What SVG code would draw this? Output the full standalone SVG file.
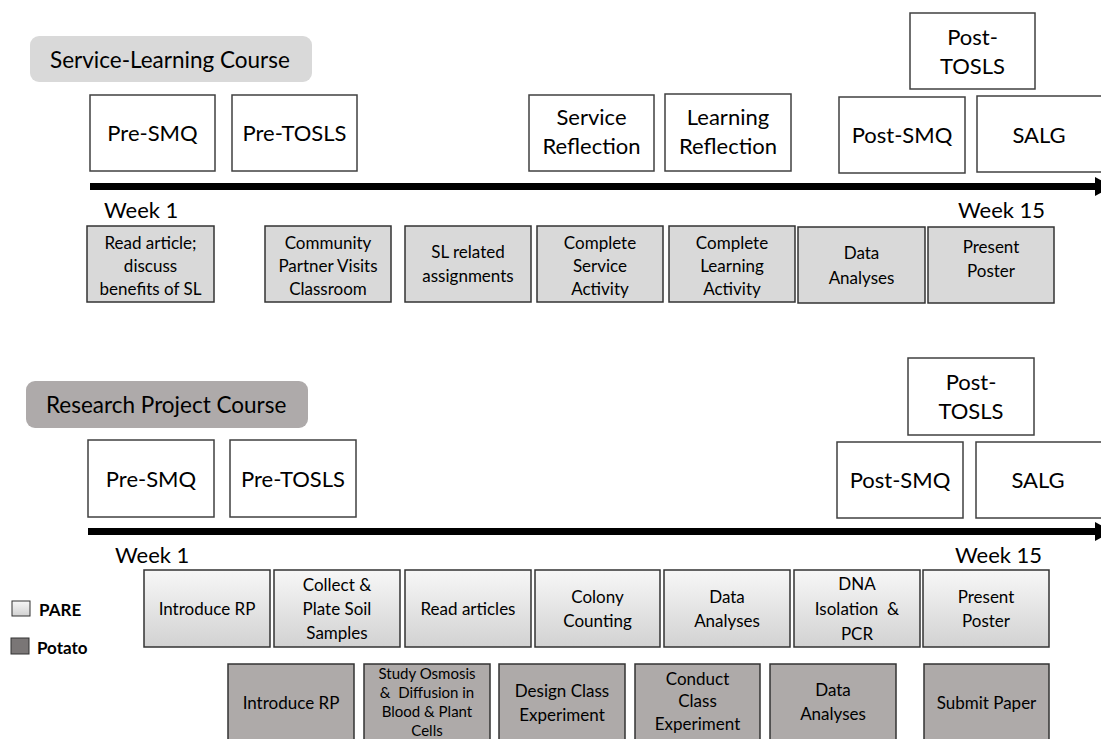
<svg xmlns="http://www.w3.org/2000/svg" width="1101" height="739" viewBox="0 0 1101 739">
<defs>
<linearGradient id="pare" x1="0" y1="0" x2="0" y2="1">
<stop offset="0" stop-color="#f7f7f7"/>
<stop offset="1" stop-color="#d2d2d2"/>
</linearGradient>
<style>
text{font-family:Lato,"Liberation Sans",sans-serif;fill:#000;text-anchor:middle}
.w rect{fill:#fff;stroke:#404040;stroke-width:1.5}
.w text{font-size:22px}
.g rect{fill:#d9d9d9;stroke:#333;stroke-width:1.5}
.p rect{fill:url(#pare);stroke:#333;stroke-width:1.5}
.t rect{fill:#aeaaa9;stroke:#333;stroke-width:1.5}
.g text,.p text,.t text{font-size:17px}
.s{font-size:15px!important}
.wk{font-size:22px;text-anchor:start}
.lbl{font-size:22.5px;text-anchor:start}
.leg{font-size:17px;font-weight:bold;text-anchor:start}
</style>
</defs>
<rect x="0" y="0" width="1101" height="739" fill="#fff"/>

<!-- Service-Learning section -->
<g id="sl-label"><rect x="30" y="36" width="282" height="46" rx="9" fill="#d9d9d9"/><text class="lbl" x="50" y="68">Service-Learning Course</text></g>
<g id="sl-pre-smq" class="w"><rect x="90" y="95" width="125" height="76"/><text x="152.5" y="141">Pre-SMQ</text></g>
<g id="sl-pre-tosls" class="w"><rect x="232" y="95" width="125" height="76"/><text x="294.5" y="141">Pre-TOSLS</text></g>
<g id="sl-service-reflection" class="w"><rect x="529" y="95" width="125" height="76"/><text x="591.5" y="125">Service</text><text x="591.5" y="154">Reflection</text></g>
<g id="sl-learning-reflection" class="w"><rect x="665" y="94" width="126" height="77"/><text x="728" y="125">Learning</text><text x="728" y="154">Reflection</text></g>
<g id="sl-post-tosls" class="w"><rect x="910" y="13" width="125" height="76"/><text x="972.5" y="45">Post-</text><text x="972.5" y="74">TOSLS</text></g>
<g id="sl-post-smq" class="w"><rect x="839" y="97" width="126" height="76"/><text x="902" y="143">Post-SMQ</text></g>
<g id="sl-salg" class="w"><rect x="977" y="96" width="130" height="76"/><text x="1039" y="143">SALG</text></g>
<text class="wk" x="104" y="218">Week 1</text>
<text class="wk" x="958" y="218">Week 15</text>

<g id="sl-read-article" class="g"><rect x="87" y="226" width="127" height="76"/><text x="150.5" y="249">Read article;</text><text x="150.5" y="272">discuss</text><text x="150.5" y="295">benefits of SL</text></g>
<g id="sl-community" class="g"><rect x="265" y="226" width="126" height="76"/><text x="328" y="249">Community</text><text x="328" y="272">Partner Visits</text><text x="328" y="295">Classroom</text></g>
<g id="sl-related" class="g"><rect x="405" y="226" width="126" height="76"/><text x="468" y="258">SL related</text><text x="468" y="282">assignments</text></g>
<g id="sl-complete-service" class="g"><rect x="537" y="226" width="126" height="76"/><text x="600" y="249">Complete</text><text x="600" y="272">Service</text><text x="600" y="295">Activity</text></g>
<g id="sl-complete-learning" class="g"><rect x="669" y="226" width="126" height="76"/><text x="732" y="249">Complete</text><text x="732" y="272">Learning</text><text x="732" y="295">Activity</text></g>
<g id="sl-data" class="g"><rect x="798" y="227" width="127" height="76"/><text x="861.5" y="259">Data</text><text x="861.5" y="284">Analyses</text></g>
<g id="sl-poster" class="g"><rect x="928" y="227" width="126" height="76"/><text x="991" y="253">Present</text><text x="991" y="277">Poster</text></g>

<!-- Research Project section -->
<g id="rp-label"><rect x="26" y="381" width="282" height="47" rx="9" fill="#aeaaaa"/><text class="lbl" x="46" y="413">Research Project Course</text></g>
<g id="rp-pre-smq" class="w"><rect x="88" y="440" width="126" height="77"/><text x="151" y="487">Pre-SMQ</text></g>
<g id="rp-pre-tosls" class="w"><rect x="230" y="440" width="126" height="77"/><text x="293" y="487">Pre-TOSLS</text></g>
<g id="rp-post-tosls" class="w"><rect x="908" y="358" width="126" height="77"/><text x="971" y="390">Post-</text><text x="971" y="419">TOSLS</text></g>
<g id="rp-post-smq" class="w"><rect x="837" y="442" width="126" height="76"/><text x="900" y="488">Post-SMQ</text></g>
<g id="rp-salg" class="w"><rect x="976" y="442" width="130" height="76"/><text x="1038" y="488">SALG</text></g>
<text class="wk" x="115" y="563">Week 1</text>
<text class="wk" x="955" y="563">Week 15</text>

<g id="pare-introduce" class="p"><rect x="144" y="570" width="126" height="77"/><text x="207" y="615">Introduce RP</text></g>
<g id="pare-collect" class="p"><rect x="274" y="570" width="126" height="77"/><text x="337" y="591">Collect &amp;</text><text x="337" y="615">Plate Soil</text><text x="337" y="639">Samples</text></g>
<g id="pare-read" class="p"><rect x="405" y="570" width="126" height="77"/><text x="468" y="615">Read articles</text></g>
<g id="pare-colony" class="p"><rect x="535" y="570" width="125" height="77"/><text x="597.5" y="603">Colony</text><text x="597.5" y="627">Counting</text></g>
<g id="pare-data" class="p"><rect x="664" y="570" width="126" height="77"/><text x="727" y="603">Data</text><text x="727" y="627">Analyses</text></g>
<g id="pare-dna" class="p"><rect x="794" y="570" width="126" height="77"/><text x="857" y="590">DNA</text><text x="857" y="615" xml:space="preserve">Isolation  &amp;</text><text x="857" y="640">PCR</text></g>
<g id="pare-poster" class="p"><rect x="923" y="570" width="126" height="77"/><text x="986" y="603">Present</text><text x="986" y="627">Poster</text></g>

<g id="potato-introduce" class="t"><rect x="228" y="664" width="126" height="90"/><text x="291" y="709">Introduce RP</text></g>
<g id="potato-study" class="t"><rect x="364" y="664" width="126" height="90"/><text class="s" x="427" y="679">Study Osmosis</text><text class="s" x="427" y="698" xml:space="preserve">&amp;  Diffusion in</text><text class="s" x="427" y="717">Blood &amp; Plant</text><text class="s" x="427" y="736">Cells</text></g>
<g id="potato-design" class="t"><rect x="499" y="664" width="126" height="90"/><text x="562" y="697">Design Class</text><text x="562" y="721">Experiment</text></g>
<g id="potato-conduct" class="t"><rect x="635" y="664" width="125" height="90"/><text x="697.5" y="685">Conduct</text><text x="697.5" y="707">Class</text><text x="697.5" y="730">Experiment</text></g>
<g id="potato-data" class="t"><rect x="770" y="664" width="126" height="90"/><text x="833" y="696">Data</text><text x="833" y="720">Analyses</text></g>
<g id="potato-submit" class="t"><rect x="924" y="664" width="125" height="90"/><text x="986.5" y="709">Submit Paper</text></g>

<!-- Legend -->
<g id="legend-pare"><rect x="12" y="601" width="18" height="15" fill="url(#pare)" stroke="#333" stroke-width="1"/><text class="leg" x="39" y="616">PARE</text></g>
<g id="legend-potato"><rect x="11" y="638" width="18" height="16" fill="#7a7676" stroke="#333" stroke-width="1"/><text class="leg" x="37" y="654">Potato</text></g>

<!-- Connectors (timelines) -->
<g id="connectors">
<line x1="90" y1="186.5" x2="1096" y2="186.5" stroke="#000" stroke-width="7"/>
<polygon points="1095,177 1113,186.5 1095,196" fill="#000"/>
<line x1="88" y1="531.5" x2="1096" y2="531.5" stroke="#000" stroke-width="7"/>
<polygon points="1095,522 1113,531.5 1095,541" fill="#000"/>
</g>
</svg>
